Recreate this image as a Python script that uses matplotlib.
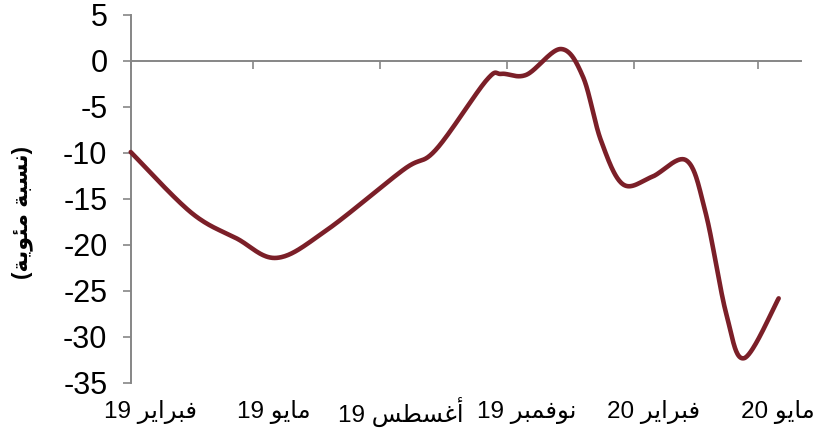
import numpy as np
import matplotlib
matplotlib.use('Agg')
import matplotlib.pyplot as plt
import matplotlib.dates as mdates
import matplotlib.transforms as mtransforms

plt.rcParams['font.family'] = ['Liberation Sans', 'DejaVu Sans']
plt.rcParams['axes.unicode_minus'] = False

# data (percent)
dates = ['2019-02-01', '2019-03-17', '2019-04-19', '2019-05-18', '2019-06-23',
         '2019-08-18', '2019-09-10', '2019-10-17', '2019-10-28', '2019-11-15',
         '2019-12-10', '2019-12-26', '2020-01-08', '2020-01-24', '2020-02-14',
         '2020-03-10', '2020-03-24', '2020-04-08', '2020-04-21', '2020-05-16']
values = [-9.9, -16.5, -19.3, -21.4, -18.4,
          -11.8, -9.7, -2.1, -1.4, -1.5,
          1.3, -1.7, -8.6, -13.4, -12.6,
          -10.8, -16.5, -27.5, -32.3, -25.8]

tick_dates = ['2019-02-01', '2019-05-01', '2019-08-01', '2019-11-01', '2020-02-01', '2020-05-01']
tick_months = ['فبراير', 'مايو', 'أغسطس', 'نوفمبر', 'فبراير', 'مايو']
tick_years = ['19', '19', '19', '19', '20', '20']
x_range = ['2019-02-01', '2020-06-01']
y_label = 'نسبة مئوية'

# arabic presentation forms: isolated, final, initial, medial
FORMS = {
    'ا': ('\uFE8D', '\uFE8E'),
    'أ': ('\uFE83', '\uFE84'),
    'ر': ('\uFEAD', '\uFEAE'),
    'و': ('\uFEED', '\uFEEE'),
    'ة': ('\uFE93', '\uFE94'),
    'ب': ('\uFE8F', '\uFE90', '\uFE91', '\uFE92'),
    'س': ('\uFEB1', '\uFEB2', '\uFEB3', '\uFEB4'),
    'ط': ('\uFEC1', '\uFEC2', '\uFEC3', '\uFEC4'),
    'غ': ('\uFECD', '\uFECE', '\uFECF', '\uFED0'),
    'ف': ('\uFED1', '\uFED2', '\uFED3', '\uFED4'),
    'م': ('\uFEE1', '\uFEE2', '\uFEE3', '\uFEE4'),
    'ن': ('\uFEE5', '\uFEE6', '\uFEE7', '\uFEE8'),
    'ي': ('\uFEF1', '\uFEF2', '\uFEF3', '\uFEF4'),
    'ئ': ('\uFE89', '\uFE8A', '\uFE8B', '\uFE8C'),
}


def ar(text):
    # shape the letters and put them in visual (left to right) order
    out = []
    for i, c in enumerate(text):
        if c not in FORMS:
            out.append(c)
            continue
        prev = text[i - 1] if i > 0 else ''
        nxt = text[i + 1] if i + 1 < len(text) else ''
        jp = prev in FORMS and len(FORMS[prev]) == 4
        jn = len(FORMS[c]) == 4 and nxt in FORMS
        f = FORMS[c]
        if jp and jn:
            out.append(f[3])
        elif jp:
            out.append(f[1])
        elif jn:
            out.append(f[2])
        else:
            out.append(f[0])
    return ''.join(out)[::-1]


def smooth(x, y, n=40):
    # excel-like smoothed line (catmull-rom bezier)
    px = np.concatenate([[x[0]], x, [x[-1]]])
    py = np.concatenate([[y[0]], y, [y[-1]]])
    xs, ys = [], []
    t = np.linspace(0, 1, n)
    for i in range(1, len(px) - 2):
        x0, y0 = px[i], py[i]
        x3, y3 = px[i + 1], py[i + 1]
        x1 = x0 + (px[i + 1] - px[i - 1]) / 6
        y1 = y0 + (py[i + 1] - py[i - 1]) / 6
        x2 = x3 - (px[i + 2] - px[i]) / 6
        y2 = y3 - (py[i + 2] - py[i]) / 6
        xs.append((1-t)**3*x0 + 3*(1-t)**2*t*x1 + 3*(1-t)*t**2*x2 + t**3*x3)
        ys.append((1-t)**3*y0 + 3*(1-t)**2*t*y1 + 3*(1-t)*t**2*y2 + t**3*y3)
    return np.concatenate(xs), np.concatenate(ys)


gray = '#868686'
x = mdates.date2num(np.array(dates, dtype='datetime64[D]'))
xt = mdates.date2num(np.array(tick_dates, dtype='datetime64[D]'))
xr = mdates.date2num(np.array(x_range, dtype='datetime64[D]'))

fig = plt.figure(figsize=(8.14, 4.38), dpi=100)
ax = fig.add_axes([0.1606, 0.1256, 0.8231, 0.8402])

sx, sy = smooth(x, np.array(values))
ax.plot(sx, sy, color='#7B1F28', lw=3.3, solid_capstyle='round', clip_on=False, zorder=3)

ax.set_xlim(xr[0], xr[1])
ax.set_ylim(-35, 5)
ax.set_yticks(range(-35, 6, 5))
ax.set_xticks(xt)

for s in ['top', 'right']:
    ax.spines[s].set_visible(False)
ax.spines['bottom'].set_position(('data', 0))
ax.spines['bottom'].set_color(gray)
ax.spines['bottom'].set_linewidth(1.4)
ax.spines['left'].set_color(gray)
ax.spines['left'].set_linewidth(1.4)

ax.tick_params(axis='y', direction='out', length=5.8, width=1.2, color=gray,
               labelsize=22, pad=11)
ax.tick_params(axis='x', direction='out', length=5.8, width=1.2, color=gray,
               labelbottom=False)

trans = mtransforms.blended_transform_factory(ax.transData, ax.transAxes)
trans = trans + mtransforms.ScaledTranslation(0.2, 0, fig.dpi_scale_trans)
for xv, m, yy in zip(xt, tick_months, tick_years):
    ax.text(xv, -0.08, yy + ' ' + ar(m), transform=trans, ha='center', va='center',
            fontsize=17.5, clip_on=False)

fig.text(0.027, 0.514, '(' + ar(y_label) + ')', rotation=90, fontweight='bold',
         fontsize=16, ha='center', va='center')

fig.savefig('out.png', dpi=100)
